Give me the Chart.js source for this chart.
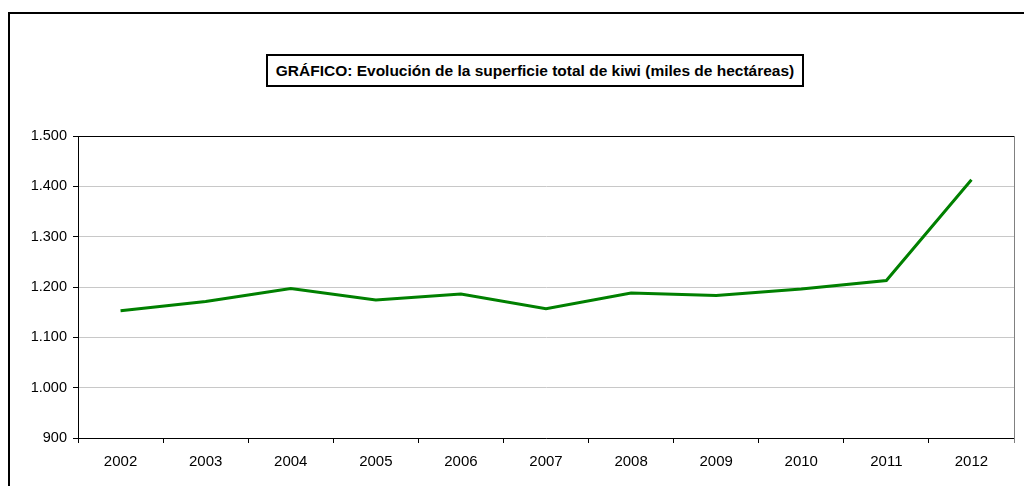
<!DOCTYPE html>
<html>
<head>
<meta charset="utf-8">
<script src="https://cdn.jsdelivr.net/npm/chart.js@4.4.1/dist/chart.umd.min.js"></script>
<style>
  html, body { margin: 0; padding: 0; background: #fff; }
  #wrap { position: relative; width: 1024px; height: 486px; overflow: hidden; }
  #frame { position: absolute; left: 8px; top: 12px; width: 1100px; height: 600px; border: 2px solid #000; box-sizing: border-box; }
  #title { position: absolute; left: 266px; top: 54px; width: 538px; height: 33px; border: 2px solid #000; box-sizing: border-box;
           font: bold 15.5px "Liberation Sans", Arial, sans-serif; color: #000; text-align: center; line-height: 29px; background: #fff;
           white-space: nowrap; }
  canvas { position: absolute; left: 0; top: 0; }
</style>
</head>
<body>
<div id="wrap">
  <div id="frame"></div>
  <canvas id="chart" width="1024" height="486"></canvas>
  <div id="title">GRÁFICO: Evolución de la superficie total de kiwi (miles de hectáreas)</div>
</div>
<script>
const years = ["2002", "2003", "2004", "2005", "2006", "2007", "2008", "2009", "2010", "2011", "2012"];
const superficie = [1153, 1171, 1197, 1174, 1186, 1157, 1188, 1183, 1196, 1213, 1413];
const yMin = 900;
const yMax = 1500;
const yStep = 100;

// miles con punto, también para 4 cifras
const fmt = v => String(v).replace(/\B(?=(\d{3})+(?!\d))/g, ".");

const plotEdges = {
  id: "plotEdges",
  afterDraw(chart) {
    const { ctx, chartArea: a } = chart;
    ctx.save();
    ctx.lineWidth = 1;
    ctx.strokeStyle = "#000";
    ctx.beginPath();
    ctx.moveTo(a.left, a.top + 0.5);
    ctx.lineTo(a.right, a.top + 0.5);
    ctx.stroke();
    ctx.strokeStyle = "#808080";
    ctx.beginPath();
    ctx.moveTo(a.right + 0.5, a.top);
    ctx.lineTo(a.right + 0.5, a.bottom + 5);
    ctx.stroke();
    ctx.restore();
  }
};

new Chart(document.getElementById("chart"), {
  type: "line",
  data: {
    labels: years,
    datasets: [{
      data: superficie,
      borderColor: "#008000",
      borderWidth: 3,
      pointRadius: 0,
      tension: 0,
      fill: false
    }]
  },
  options: {
    responsive: false,
    animation: false,
    layout: { padding: { top: 136, right: 10, left: 0, bottom: 0 } },
    plugins: { legend: { display: false }, title: { display: false }, tooltip: { enabled: false } },
    scales: {
      x: {
        offset: true,
        afterFit: s => { s.height = 48; },
        grid: { offset: true, drawOnChartArea: false, tickLength: 5, tickColor: "#000" },
        border: { color: "#000", width: 1 },
        ticks: { color: "#000", padding: 10, font: { family: "Liberation Sans", size: 15 }, maxRotation: 0 }
      },
      y: {
        min: yMin,
        max: yMax,
        afterFit: s => { s.width = 78; },
        grid: { color: "#c8c8c8", tickLength: 5, tickColor: "#000" },
        border: { color: "#000", width: 1 },
        ticks: {
          stepSize: yStep,
          color: "#000",
          padding: 6,
          font: { family: "Liberation Sans", size: 14.5 },
          callback: v => fmt(v)
        }
      }
    }
  },
  plugins: [plotEdges]
});
</script>
</body>
</html>
